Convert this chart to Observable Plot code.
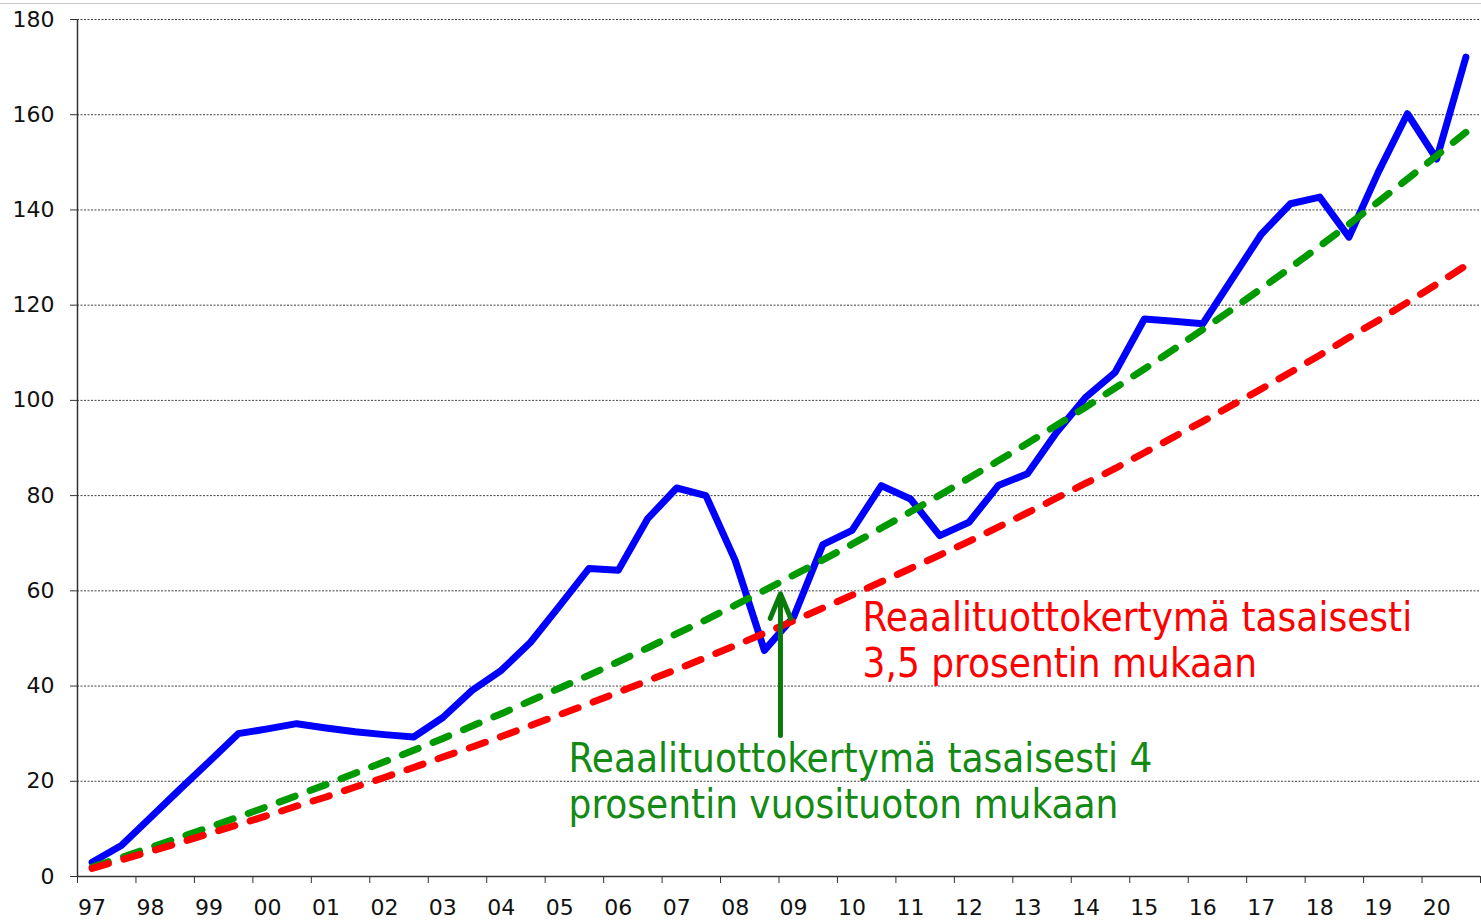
<!DOCTYPE html>
<html>
<head>
<meta charset="utf-8">
<script src="https://cdn.jsdelivr.net/npm/d3@7"></script>
<script src="https://cdn.jsdelivr.net/npm/@observablehq/plot@0.6"></script>
<style>
html, body { margin: 0; padding: 0; background: #fff; }
#chart { position: relative; width: 1481px; height: 922px; overflow: hidden; }
#topline { position: absolute; left: 0; top: 3px; width: 1481px; height: 0; border-top: 1px solid #c8c8c8; }
#chart svg { position: absolute; left: 0; top: 0; }
</style>
</head>
<body>
<div id="chart"><div id="topline"></div></div>
<script>
// Year labels (one per year, two half-year points per year)
const yearLabels = ["97","98","99","00","01","02","03","04","05","06","07","08",
                    "09","10","11","12","13","14","15","16","17","18","19","20"];

// Cumulative real return (index points), half-yearly
const portfolio = [3.0, 6.5, 12.4, 18.3, 24.1, 30.0, 31.0, 32.1, 31.2, 30.4, 29.8, 29.3,
                   33.4, 39.1, 43.3, 49.2, 56.9, 64.7, 64.3, 75.1, 81.6, 80.0, 66.4, 47.5,
                   54.5, 69.7, 72.7, 82.1, 79.3, 71.6, 74.4, 82.1, 84.6, 93.3, 100.7, 105.9,
                   117.1, 116.6, 116.1, 125.5, 134.9, 141.3, 142.7, 134.3, 147.9, 160.2, 150.7, 172.1];

// Steady 4 % real return accumulation
const steady4 = [2.0, 4.0, 6.1, 8.2, 10.3, 12.5, 14.7, 17.0, 19.3, 21.7, 24.1, 26.5,
                 29.0, 31.6, 34.2, 36.9, 39.6, 42.3, 45.1, 48.0, 51.0, 53.9, 57.0, 60.1,
                 63.3, 66.5, 69.8, 73.2, 76.6, 80.1, 83.7, 87.3, 91.0, 94.8, 98.6, 102.6,
                 106.6, 110.7, 114.9, 119.1, 123.5, 127.9, 132.4, 137.0, 141.7, 146.5, 151.4, 156.3];

// Steady 3.5 % real return accumulation
const steady35 = [1.7, 3.5, 5.3, 7.1, 9.0, 10.9, 12.8, 14.8, 16.7, 18.8, 20.8, 22.9,
                  25.1, 27.2, 29.4, 31.7, 34.0, 36.3, 38.7, 41.1, 43.5, 46.0, 48.5, 51.1,
                  53.7, 56.4, 59.1, 61.9, 64.7, 67.5, 70.4, 73.4, 76.4, 79.5, 82.6, 85.7,
                  89.0, 92.3, 95.6, 99.0, 102.4, 105.9, 109.5, 113.2, 116.8, 120.6, 124.4, 128.3];

const yTicks = [0, 20, 40, 60, 80, 100, 120, 140, 160, 180];

const redLabel = "Reaalituottokertymä tasaisesti\n3,5 prosentin mukaan";
const greenLabel = "Reaalituottokertymä tasaisesti 4\nprosentin vuosituoton mukaan";

const rows = portfolio.map((v, i) => ({t: i + 0.5, blue: v, green: steady4[i], red: steady35[i]}));
const yearTicks = yearLabels.map((_, k) => 2 * k).concat([2 * yearLabels.length]);
const labelTicks = yearLabels.map((_, k) => 2 * k + 0.5);

const axisFont = "Tahoma, 'DejaVu Sans', sans-serif";
const noteFont = "'DejaVu Sans Condensed', 'Liberation Sans Narrow', 'Roboto Condensed', 'Noto Sans', sans-serif";

const chart = Plot.plot({
  width: 1481,
  height: 922,
  marginLeft: 77,
  marginRight: 1,
  marginTop: 19,
  marginBottom: 46,
  x: {domain: [0, 48], axis: null},
  y: {domain: [0, 180], axis: null},
  style: {fontFamily: axisFont, background: "transparent", color: "#111"},
  marks: [
    Plot.ruleY(yTicks.slice(1), {stroke: "#000", strokeWidth: 1, strokeDasharray: "2,1.5", strokeOpacity: 0.75}),
    Plot.axisY({ticks: yTicks, tickSize: 7, tickPadding: 16, fontSize: 22, label: null, stroke: "#333", fill: "#111"}),
    Plot.axisX({ticks: yearTicks, tickFormat: () => "", tickSize: 7, label: null, stroke: "#333"}),
    Plot.axisX({ticks: labelTicks, tickFormat: d => yearLabels[Math.round((d - 0.5) / 2)], tickSize: 0, tickPadding: 23, fontSize: 22, label: null, fill: "#111"}),
    Plot.ruleX([0], {stroke: "#333", strokeWidth: 1.5}),
    Plot.ruleY([0], {stroke: "#333", strokeWidth: 1.5}),
    Plot.line(rows, {x: "t", y: "blue", stroke: "#0000ff", strokeWidth: 7}),
    Plot.line(rows, {x: "t", y: "green", stroke: "#009a00", strokeWidth: 7, strokeDasharray: "17,16", strokeLinecap: "round"}),
    Plot.line(rows, {x: "t", y: "red", stroke: "#ff0000", strokeWidth: 7, strokeDasharray: "17,16", strokeLinecap: "round"}),
    Plot.arrow([0], {x1: 24.05, y1: 29.6, x2: 24.05, y2: 59.4, stroke: "#0a7a0a", strokeWidth: 5, headLength: 8, headAngle: 45}),
    Plot.text([redLabel], {x: 26.86, y: 49.8, text: d => d, textAnchor: "start", lineAnchor: "middle", fill: "#ff0000", fontSize: 40, lineHeight: 1.15, fontFamily: noteFont}),
    Plot.text([greenLabel], {x: 16.8, y: 20.2, text: d => d, textAnchor: "start", lineAnchor: "middle", fill: "#138a13", fontSize: 40, lineHeight: 1.15, fontFamily: noteFont})
  ]
});
document.getElementById("chart").appendChild(chart);
</script>
</body>
</html>
